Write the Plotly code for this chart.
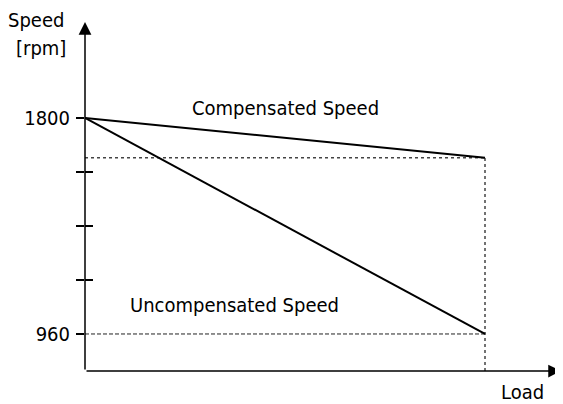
import plotly.graph_objects as go

# ---- data ----
load = [0, 1]
compensated_speed = [1800, 1645]
uncompensated_speed = [1800, 960]
ytick_vals = [960, 1170, 1380, 1590, 1800]
ytick_text = ["960", "", "", "", "1800"]
minor_tick_vals = [1170, 1380, 1590]

y_range = [816, 2173]
x_range = [0, 1.19]

FONT = "DejaVu Sans Condensed, Liberation Sans Narrow, sans-serif"
FS = 20

fig = go.Figure()

# reference lines
fig.add_trace(go.Scatter(x=[load[0], load[-1]], y=[compensated_speed[-1]] * 2, mode="lines",
                         line=dict(color="#444", width=1.5, dash="dot"), hoverinfo="skip"))
fig.add_trace(go.Scatter(x=[load[0], load[-1]], y=[uncompensated_speed[-1]] * 2, mode="lines",
                         line=dict(color="#222", width=1, dash="4px,2px"), hoverinfo="skip"))
fig.add_trace(go.Scatter(x=[load[-1], load[-1]], y=[y_range[0], compensated_speed[-1]], mode="lines",
                         line=dict(color="#444", width=1.5, dash="dot"), hoverinfo="skip"))

# main lines
fig.add_trace(go.Scatter(x=load, y=compensated_speed, mode="lines",
                         line=dict(color="black", width=2), name="Compensated Speed"))
fig.add_trace(go.Scatter(x=load, y=uncompensated_speed, mode="lines",
                         line=dict(color="black", width=2), name="Uncompensated Speed"))
# dummy trace to activate yaxis2 (inner tick marks)
fig.add_trace(go.Scatter(x=[None], y=[None], yaxis="y2", hoverinfo="skip"))

txt = dict(family=FONT, size=FS, color="black")
annotations = [
    # axis arrows
    dict(x=0, y=y_range[1], ax=0, ay=y_range[0], xref="x", yref="y", axref="x", ayref="y",
         showarrow=True, arrowhead=2, arrowsize=1.7, arrowwidth=1.5, arrowcolor="black", text="", standoff=0),
    dict(x=x_range[1], y=y_range[0], ax=0, ay=y_range[0], xref="x", yref="y", axref="x", ayref="y",
         showarrow=True, arrowhead=2, arrowsize=1.7, arrowwidth=1.5, arrowcolor="black", text="", standoff=0),
    # curve labels
    dict(x=0.5, y=1839, xref="x", yref="y", text="Compensated Speed", showarrow=False, font=txt),
    dict(x=0.3725, y=1073, xref="x", yref="y", text="Uncompensated Speed", showarrow=False, font=txt),
    # axis titles
    dict(text="Speed", xref="paper", yref="paper", x=-0.04, y=1.0057, xanchor="right",
         yanchor="middle", showarrow=False, font=txt),
    dict(text="[rpm]", xref="paper", yref="paper", x=-0.036, y=0.9255, xanchor="right",
         yanchor="middle", showarrow=False, font=txt),
    dict(text="Load", xref="paper", yref="paper", x=0.92, y=-0.060, xanchor="center",
         yanchor="middle", showarrow=False, font=txt),
]

# the page body adds an 8px margin, so the figure is 8px smaller and shifted accordingly
fig.update_layout(
    width=555, height=396,
    margin=dict(l=77, r=2, t=14, b=33, autoexpand=False),
    paper_bgcolor="white", plot_bgcolor="white",
    showlegend=False,
    font=txt,
    xaxis=dict(range=x_range, showgrid=False, zeroline=False, showline=False,
               showticklabels=False, ticks="", automargin=False),
    yaxis=dict(range=y_range, showgrid=False, zeroline=False, showline=False,
               tickmode="array", tickvals=ytick_vals, ticktext=ytick_text,
               ticks="outside", ticklen=8, tickwidth=1.5, tickcolor="black",
               ticklabelstandoff=2, tickfont=txt, automargin=False),
    yaxis2=dict(range=y_range, overlaying="y", showgrid=False, zeroline=False, showline=False,
                tickmode="array", tickvals=minor_tick_vals, showticklabels=False,
                ticks="inside", ticklen=8, tickwidth=1.5, tickcolor="black", automargin=False),
    annotations=annotations,
)

fig.write_html("out.html")
